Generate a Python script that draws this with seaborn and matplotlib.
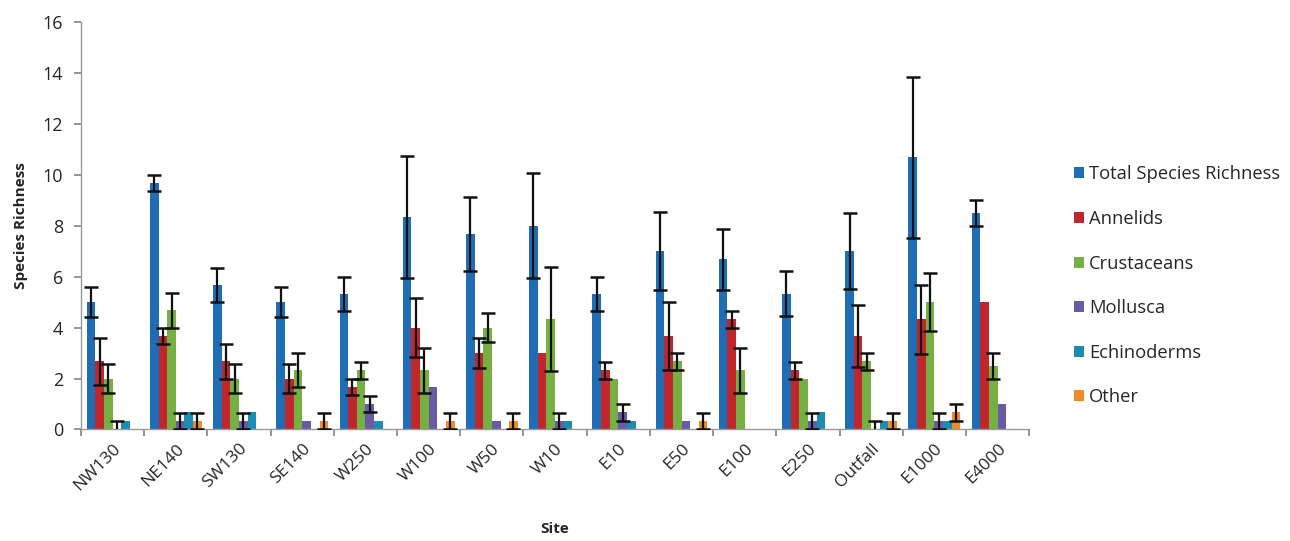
import numpy as np
import pandas as pd
import matplotlib
matplotlib.use("Agg")
import matplotlib.pyplot as plt
import seaborn as sns

# Mean species richness per site, with standard-error bars
sites = ["NW130", "NE140", "SW130", "SE140", "W250", "W100", "W50", "W10",
         "E10", "E50", "E100", "E250", "Outfall", "E1000", "E4000"]
groups = ["Total Species Richness", "Annelids", "Crustaceans", "Mollusca",
          "Echinoderms", "Other"]

total = [5.0, 9.67, 5.67, 5.0, 5.33, 8.33, 7.67, 8.0, 5.33, 7.0, 6.67, 5.33, 7.0, 10.67, 8.5]
total_err = [0.58, 0.33, 0.67, 0.58, 0.67, 2.4, 1.45, 2.05, 0.67, 1.53, 1.2, 0.87, 1.5, 3.17, 0.5]
annelids = [2.67, 3.67, 2.67, 2.0, 1.67, 4.0, 3.0, 3.0, 2.33, 3.67, 4.33, 2.33, 3.67, 4.33, 5.0]
annelids_err = [0.93, 0.33, 0.67, 0.58, 0.33, 1.15, 0.58, 0.0, 0.33, 1.33, 0.33, 0.33, 1.2, 1.35, 0.0]
crustaceans = [2.0, 4.67, 2.0, 2.33, 2.33, 2.33, 4.0, 4.33, 2.0, 2.67, 2.33, 2.0, 2.67, 5.0, 2.5]
crustaceans_err = [0.58, 0.67, 0.58, 0.67, 0.33, 0.88, 0.58, 2.03, 0.0, 0.33, 0.88, 0.0, 0.33, 1.15, 0.5]
mollusca = [0.0, 0.33, 0.33, 0.33, 1.0, 1.67, 0.33, 0.33, 0.67, 0.33, 0.0, 0.33, 0.0, 0.33, 1.0]
mollusca_err = [0.33, 0.33, 0.33, 0.0, 0.33, 0.0, 0.0, 0.33, 0.33, 0.0, 0.0, 0.33, 0.33, 0.33, 0.0]
echinoderms = [0.33, 0.67, 0.67, 0.0, 0.33, 0.0, 0.0, 0.33, 0.33, 0.0, 0.0, 0.67, 0.33, 0.33, 0.0]
echinoderms_err = [0.0] * 15
other = [0.0, 0.33, 0.0, 0.33, 0.0, 0.33, 0.33, 0.0, 0.0, 0.33, 0.0, 0.0, 0.33, 0.67, 0.0]
other_err = [0.0, 0.33, 0.0, 0.33, 0.0, 0.33, 0.33, 0.0, 0.0, 0.33, 0.0, 0.0, 0.33, 0.33, 0.0]

values = [total, annelids, crustaceans, mollusca, echinoderms, other]
errors = [total_err, annelids_err, crustaceans_err, mollusca_err, echinoderms_err, other_err]
colors = ["#1f6db5", "#c0262c", "#76b043", "#6a5ba6", "#1b8db3", "#f08a2c"]

df = pd.DataFrame({
    "Site": np.tile(sites, len(groups)),
    "Group": np.repeat(groups, len(sites)),
    "Richness": np.concatenate(values),
})

sns.set_theme(style="white")
plt.rcParams["font.family"] = ["Open Sans", "DejaVu Sans"]

fig = plt.figure(figsize=(12.9, 5.41), dpi=100)
ax = fig.add_axes([0.0628, 0.2061, 0.735, 0.754])

sns.barplot(data=df, x="Site", y="Richness", hue="Group", order=sites,
            hue_order=groups, palette=colors, width=0.82, errorbar=None,
            saturation=1, linewidth=0, ax=ax)

# Error bars placed on the bar centres seaborn computed
for container, err in zip(ax.containers, errors):
    xs = [p.get_x() + p.get_width() / 2 for p in container.patches]
    ys = [p.get_height() for p in container.patches]
    for x, y, e in zip(xs, ys, err):
        if e > 0:
            ax.errorbar(x, y, yerr=e, fmt="none", ecolor="#111111",
                        elinewidth=1.6, capsize=5, capthick=1.8, zorder=5)

ax.set_ylim(0, 16)
ax.set_xlim(-0.5, len(sites) - 0.5)
ax.set_yticks(np.arange(0, 17, 2))
ax.tick_params(axis="y", labelsize=13, length=5, color="#888888", direction="out",
               left=True, pad=8)

# Category boundaries carry the tick marks; labels sit at centres
ax.set_xticks(np.arange(-0.5, len(sites), 1.0))
ax.set_xticklabels([])
ax.set_xticks(np.arange(len(sites)), minor=True)
ax.set_xticklabels(sites, minor=True, rotation=45, ha="right",
                   rotation_mode="anchor", fontsize=12.5)
ax.tick_params(axis="x", which="major", length=5, color="#888888",
               direction="out", bottom=True)
ax.tick_params(axis="x", which="minor", length=0, pad=8)

for side in ["top", "right"]:
    ax.spines[side].set_visible(False)
for side in ["left", "bottom"]:
    ax.spines[side].set_color("#999999")
    ax.spines[side].set_linewidth(1.0)

ax.set_xlabel("Site", fontsize=11, fontweight="bold", labelpad=20)
ax.set_ylabel("Species Richness", fontsize=11, fontweight="bold", labelpad=10)

leg = ax.legend(loc="center left", bbox_to_anchor=(1.03, 0.352), frameon=False,
                fontsize=13.2, handlelength=0.55, handleheight=0.55,
                handletextpad=0.25, labelspacing=1.45)

fig.savefig("out.png", dpi=100, facecolor="white")
